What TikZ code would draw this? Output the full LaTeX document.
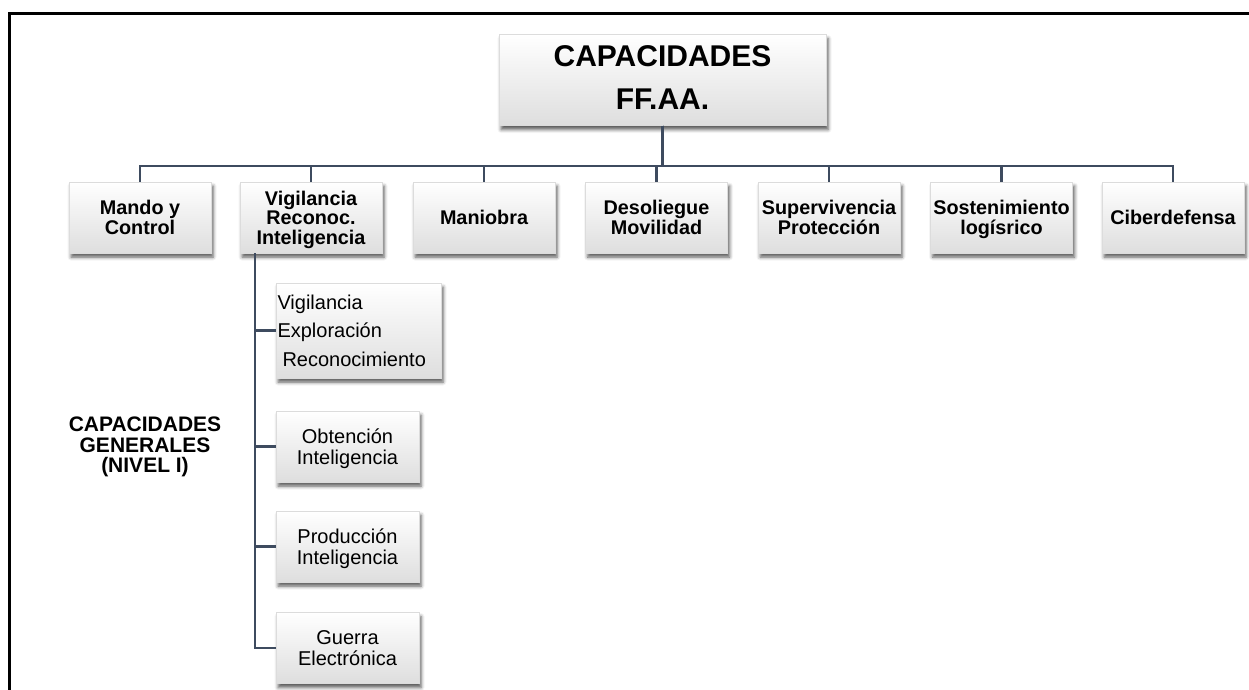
\documentclass[tikz,border=0pt]{standalone}
\usepackage{fontspec}
\setmainfont{Liberation Sans}
\usetikzlibrary{shadows.blur}
\definecolor{conncol}{RGB}{62,75,95}
\definecolor{boxedge}{RGB}{220,220,220}
\begin{document}
\begin{tikzpicture}[x=1pt,y=-1pt,
  box/.style={draw=boxedge, line width=0.4pt, top color=white, bottom color=black!13,
    blur shadow={shadow xshift=2pt, shadow yshift=-4pt, shadow blur radius=3.5pt, shadow opacity=65},
    inner sep=0pt, align=center},
  rowbox/.style={box, minimum width=142pt, minimum height=71pt, text depth=0pt,
    font=\bfseries\fontsize{19.8}{19.5}\selectfont},
  subbox/.style={box, minimum width=143pt, minimum height=71pt, text depth=0pt,
    font=\fontsize{20}{21}\selectfont},
  conn/.style={draw=conncol, line width=2.4pt},
  frame/.style={line width=3pt, line cap=rect}
]
\useasboundingbox (0,0) rectangle (1249,690);
\draw[frame] (9,692) -- (9,14) -- (1251,14);

\node[box, minimum width=327pt, minimum height=91pt,
  font=\bfseries\fontsize{30}{43}\selectfont] (top) at (662.5,80) {CAPACIDADES\\FF.AA.\vspace*{4pt}};

\node[rowbox] (c1) at (140,217.5) {Mando y\\Control};
\node[rowbox] (c2) at (311,217.5) {Vigilancia\\Reconoc.\\Inteligencia};
\node[rowbox] (c3) at (484,217.5) {Maniobra};
\node[rowbox] (c4) at (656.5,217.5) {Desoliegue\\Movilidad};
\node[rowbox] (c5) at (829,217.5) {Supervivencia\\Protección};
\node[rowbox] (c6) at (1001.5,217.5) {Sostenimiento\\logísrico};
\node[rowbox] (c7) at (1173,217.5) {Ciberdefensa};

\foreach \c in {c1,c2,c3,c4,c5,c6,c7}
  \draw[conn] (top.south) -- ++(0,40.5) -| (\c.north);

\node[box, minimum width=165pt, minimum height=95pt, text width=162pt, align=left,
  font=\fontsize{20}{28.5}\selectfont] (s1) at (358.5,330.5)
  {Vigilancia\\Exploración\\\hspace*{5pt}Reconocimiento};
\node[subbox] (s2) at (347.5,446.5) {Obtención\\Inteligencia};
\node[subbox] (s3) at (347.5,546.5) {Producción\\Inteligencia};
\node[subbox] (s4) at (347.5,648) {Guerra\\Electrónica};

\coordinate (trunk) at ([xshift=-56pt]c2.south);
\foreach \s in {s1,s2,s3,s4}
  \draw[conn] (trunk) |- (\s.west);

\node[align=center, font=\bfseries\fontsize{21}{20.5}\selectfont] (gen) at (145,447)
  {CAPACIDADES\\GENERALES\\(NIVEL I)};
\end{tikzpicture}
\end{document}
